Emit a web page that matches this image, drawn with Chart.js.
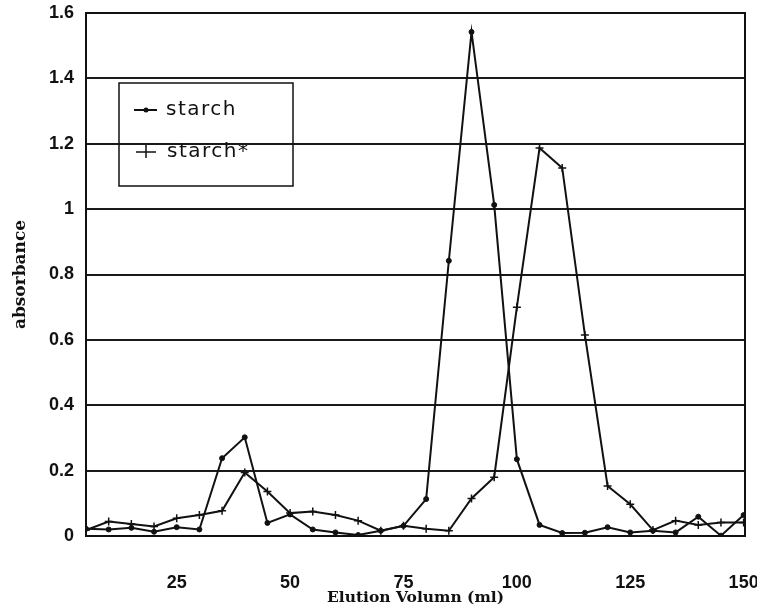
<!DOCTYPE html>
<html>
<head>
<meta charset="utf-8">
<script src="https://cdn.jsdelivr.net/npm/chart.js@4.4.1/dist/chart.umd.min.js"></script>
<style>
  html, body { margin: 0; padding: 0; background: #fff; }
  #c { display: block; }
</style>
</head>
<body>
<canvas id="c" width="757" height="611"></canvas>
<script>
// Elution volume (ml)
const elution = [5,10,15,20,25,30,35,40,45,50,55,60,65,70,75,80,85,90,95,100,105,110,115,120,125,130,135,140,145,150];
// absorbance, series "starch"
const starch = [0.022,0.02,0.025,0.013,0.027,0.02,0.238,0.302,0.04,0.066,0.02,0.011,0.003,0.016,0.031,0.113,0.842,1.542,1.013,0.235,0.034,0.009,0.01,0.027,0.011,0.016,0.011,0.059,0.001,0.064];
// absorbance, series "starch*"
const starchStar = [0.018,0.044,0.037,0.029,0.054,0.064,0.077,0.194,0.136,0.07,0.075,0.064,0.047,0.016,0.031,0.022,0.016,0.115,0.18,0.70,1.187,1.126,0.615,0.153,0.097,0.018,0.047,0.034,0.041,0.041];
const seriesNames = ['starch', 'starch*'];
const xTicks = [25, 50, 75, 100, 125, 150];
const yTicks = [0, 0.2, 0.4, 0.6, 0.8, 1, 1.2, 1.4, 1.6];

const toPts = arr => arr.map((v, i) => ({x: elution[i], y: v}));

const frameAndLegend = {
  id: 'frameAndLegend',
  afterDraw(chart) {
    const {ctx, chartArea: a} = chart;
    ctx.save();
    // plot frame
    ctx.strokeStyle = '#111';
    ctx.lineWidth = 2;
    ctx.strokeRect(a.left, a.top, a.right - a.left, a.bottom - a.top);
    // legend box (transparent)
    const bx = a.left + 33, by = a.top + 70, bw = 174, bh = 103;
    ctx.lineWidth = 1.5;
    ctx.strokeRect(bx, by, bw, bh);
    ctx.font = '20px "DejaVu Sans"';
    ctx.fillStyle = '#111';
    ctx.textBaseline = 'middle';
    ctx.textAlign = 'left';
    try { ctx.letterSpacing = '1.5px'; } catch (e) {}
    const ds = chart.data.datasets;
    // starch entry
    let y1 = by + 27;
    ctx.lineWidth = 2;
    ctx.beginPath(); ctx.moveTo(bx + 15, y1); ctx.lineTo(bx + 38, y1); ctx.stroke();
    ctx.beginPath(); ctx.arc(bx + 27, y1, 2.5, 0, Math.PI * 2); ctx.fill();
    ctx.fillText(ds[0].label, bx + 47, y1);
    // starch* entry
    let y2 = by + 69;
    ctx.lineWidth = 1.5;
    ctx.beginPath();
    ctx.moveTo(bx + 17, y2); ctx.lineTo(bx + 37, y2);
    ctx.moveTo(bx + 27, y2 - 7); ctx.lineTo(bx + 27, y2 + 6);
    ctx.stroke();
    ctx.fillText(ds[1].label, bx + 48, y2);
    ctx.restore();
  }
};

new Chart(document.getElementById('c'), {
  type: 'line',
  data: {
    datasets: [
      {
        label: seriesNames[0],
        data: toPts(starch),
        borderColor: '#111',
        backgroundColor: '#111',
        borderWidth: 2,
        pointStyle: 'circle',
        pointRadius: 2.5,
        pointBorderWidth: 1,
        tension: 0
      },
      {
        label: seriesNames[1],
        data: toPts(starchStar),
        borderColor: '#111',
        backgroundColor: '#111',
        borderWidth: 2,
        pointStyle: 'cross',
        pointRadius: 4,
        pointBorderWidth: 1.5,
        tension: 0
      }
    ]
  },
  options: {
    responsive: false,
    animation: false,
    devicePixelRatio: 1,
    layout: { padding: { left: 0, right: 12, top: 13, bottom: 0 } },
    plugins: { legend: { display: false }, tooltip: { enabled: false } },
    scales: {
      x: {
        type: 'linear',
        min: 5,
        max: 150.3,
        afterFit: s => { s.height = 75; s.paddingLeft = 0; s.paddingRight = 0; },
        afterBuildTicks: s => { s.ticks = xTicks.map(v => ({value: v})); },
        grid: { display: false, drawTicks: false },
        border: { display: true, color: '#111', width: 2 },
        ticks: {
          color: '#111',
          padding: 36,
          maxRotation: 0,
          callback: v => String(v),
          font: { family: '"Liberation Sans", Arial, sans-serif', size: 18, weight: 'bold' }
        },
        title: {
          display: true,
          text: 'Elution Volumn (ml)',
          color: '#111',
          padding: { top: 0, bottom: 4 },
          font: { family: '"DejaVu Serif", serif', size: 15.5, weight: 'bold' }
        }
      },
      y: {
        min: 0,
        max: 1.6,
        afterFit: s => { s.width = 86; s.paddingTop = 0; s.paddingBottom = 0; },
        afterBuildTicks: s => { s.ticks = yTicks.map(v => ({value: v})); },
        grid: { color: '#1a1a1a', lineWidth: 2, drawTicks: false },
        border: { display: true, color: '#111', width: 2 },
        ticks: {
          color: '#111',
          padding: 12,
          callback: v => String(v),
          font: { family: '"Liberation Sans", Arial, sans-serif', size: 18, weight: 'bold' }
        },
        title: {
          display: true,
          text: 'absorbance',
          color: '#111',
          padding: { top: 10, bottom: 0 },
          font: { family: '"DejaVu Serif", serif', size: 17, weight: 'bold' }
        }
      }
    }
  },
  plugins: [frameAndLegend]
});
</script>
</body>
</html>
